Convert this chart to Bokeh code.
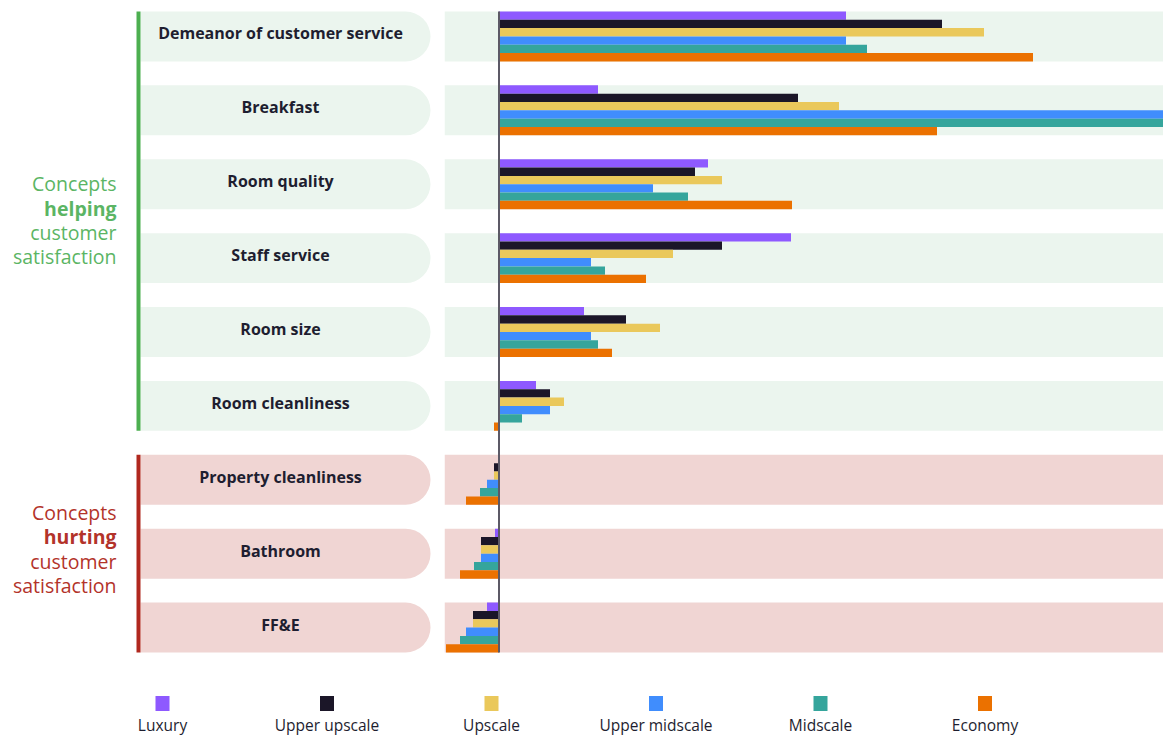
from bokeh.plotting import figure
from bokeh.models import FactorRange, Range1d, ColumnDataSource
from bokeh.layouts import column, row
from bokeh.core.properties import value
from bokeh.embed import file_html
from bokeh.resources import INLINE

categories = ["Demeanor of customer service", "Breakfast", "Room quality", "Staff service",
              "Room size", "Room cleanliness", "Property cleanliness", "Bathroom", "FF&E"]
groups = ["help"] * 6 + ["hurt"] * 3
series = ["Luxury", "Upper upscale", "Upscale", "Upper midscale", "Midscale", "Economy"]
colors = ["#8e59ff", "#1b1628", "#eac85b", "#408dfd", "#35a59c", "#eb7100"]

luxury = [34.7, 9.9, 20.9, 29.2, 8.5, 3.7, 0.0, -0.4, -1.2]
upper_upscale = [44.3, 29.9, 19.6, 22.3, 12.7, 5.1, -0.5, -1.8, -2.6]
upscale = [48.5, 34.0, 22.3, 17.4, 16.1, 6.5, -0.5, -1.8, -2.6]
upper_midscale = [34.7, 70.0, 15.4, 9.2, 9.2, 5.1, -1.2, -1.8, -3.3]
midscale = [36.8, 70.0, 18.9, 10.6, 9.9, 2.3, -1.9, -2.5, -3.9]
economy = [53.4, 43.8, 29.3, 14.7, 11.3, -0.5, -3.3, -3.9, -5.3]
values_by_series = [luxury, upper_upscale, upscale, upper_midscale, midscale, economy]

help_lines = ["Concepts", "helping", "customer", "satisfaction"]
hurt_lines = ["Concepts", "hurting", "customer", "satisfaction"]

GREEN = "#4caf50"
GREEN_TXT = "#5bb564"
RED = "#b0281e"
RED_TXT = "#b3332a"
GREEN_BG = "#ebf5ee"
RED_BG = "#f0d5d3"
DARK = "#1e1e30"

PX_PER_UNIT = 50 / 6.0
GAP = 2.88
PAD_PX = 11
factors = [(c, s) for c in reversed(categories) for s in reversed(series)]
yr = FactorRange(factors=factors, factor_padding=0, group_padding=GAP,
                 range_padding=PAD_PX / PX_PER_UNIT, range_padding_units="absolute")

H_MAIN = 663
W_LEFT = 444
W_RIGHT = 719


def base(width, height, x_range, y_range):
    p = figure(width=width, height=height, x_range=x_range, y_range=y_range,
               output_backend="svg", toolbar_location=None, min_border=0,
               outline_line_color=None, background_fill_color="white",
               border_fill_color="white")
    p.axis.visible = False
    p.grid.visible = False
    return p


# ---------------- left label panel ----------------
left = base(W_LEFT, H_MAIN, Range1d(0, W_LEFT), yr)
bg = [GREEN_BG if g == "help" else RED_BG for g in groups]
left.hbar(y=categories, left=140, right=430, height=6, fill_color=bg, line_color=None,
          border_radius=(0, 25, 25, 0))
label_y = [(c, 3.0 / PX_PER_UNIT) for c in categories]
lab_src = ColumnDataSource(dict(x=[280] * len(categories), y=label_y, text=categories))
left.text(x="x", y="y", text="text", source=lab_src,
          text_font=value("Open Sans"), text_font_size="16px", text_font_style="bold",
          text_align="center", text_baseline="middle", text_color=DARK)

bars_src = ColumnDataSource(dict(
    left=[136, 136], right=[140, 140],
    top=[(categories[0], 3.0), (categories[6], 3.0)],
    bottom=[(categories[5], -3.0), (categories[8], -3.0)],
    color=[GREEN, RED]))
left.quad(left="left", right="right", top="top", bottom="bottom",
          fill_color="color", line_color=None, source=bars_src)

help_off_px = [1.0, -24.0, -48.0, -72.0]
hurt_off_px = [41.0, 17.0, -8.0, -32.0]
gl_y = [("Room quality", o / PX_PER_UNIT) for o in help_off_px] + \
       [("Bathroom", o / PX_PER_UNIT) for o in hurt_off_px]
gl_src = ColumnDataSource(dict(
    x=[116] * 8, y=gl_y, text=help_lines + hurt_lines,
    style=["normal", "bold", "normal", "normal"] * 2,
    color=[GREEN_TXT] * 4 + [RED_TXT] * 4))
left.text(x="x", y="y", text="text", source=gl_src, text_font=value("Open Sans"),
          text_font_size="19.5px", text_font_style="style", text_color="color",
          text_align="right", text_baseline="middle")

# ---------------- bar panel ----------------
right = base(W_RIGHT, H_MAIN, Range1d(-5.45, 66.45), yr)
right.hbar(y=categories, left=-100, right=200, height=6, fill_color=bg, line_color=None)

ys, rights, cols = [], [], []
for s, vals, col in zip(series, values_by_series, colors):
    for c, v in zip(categories, vals):
        ys.append((c, s))
        rights.append(v)
        cols.append(col)
src = ColumnDataSource(dict(y=ys, right=rights, color=cols))
right.hbar(y="y", left=0, right="right", height=1, fill_color="color", line_color=None,
           source=src)

zl = ColumnDataSource(dict(x0=[0], x1=[0], y0=[(categories[0], 3.0)], y1=[(categories[-1], -3.0)]))
right.segment(x0="x0", y0="y0", x1="x1", y1="y1", line_color="#5c5966", line_width=2, source=zl)

# ---------------- legend ----------------
H_LEG = 736 - H_MAIN
W_ALL = W_LEFT + W_RIGHT
leg = base(W_ALL, H_LEG, Range1d(0, W_ALL), Range1d(H_LEG, 0))
lx = [162 + i * 164.5 for i in range(len(series))]
leg.rect(x=lx, y=[40] * len(series), width=14, height=15, fill_color=colors, line_color=None)
leg.text(x=lx, y=[61] * len(series), text=series, text_font=value("Open Sans"),
         text_font_size="15.5px", text_align="center", text_baseline="middle",
         text_color=DARK)

layout = column(row(left, right, spacing=0), leg, spacing=0)
open("out.html", "w").write(file_html(layout, INLINE))
